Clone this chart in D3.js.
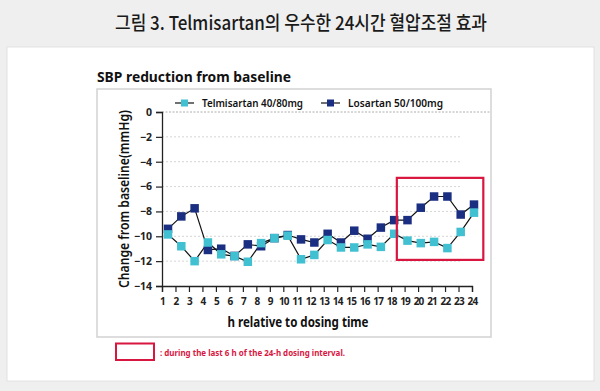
<!DOCTYPE html>
<html><head><meta charset="utf-8">
<script src="https://cdn.jsdelivr.net/npm/d3@7"></script>
<style>
html,body{margin:0;padding:0;background:#efefef;}
svg{display:block;}
</style></head>
<body>
<svg id="c" width="600" height="391"></svg>
<script>
// ---- data ----
const hours = [1,2,3,4,5,6,7,8,9,10,11,12,13,14,15,16,17,18,19,20,21,22,23,24];
const telmisartan = [-9.85,-10.8,-12.0,-10.5,-11.45,-11.6,-12.05,-10.55,-10.15,-9.95,-11.85,-11.5,-10.3,-10.9,-10.9,-10.65,-10.85,-9.8,-10.35,-10.55,-10.45,-10.95,-9.65,-8.1];
const losartan = [-9.4,-8.4,-7.75,-11.1,-11.0,-11.58,-10.65,-10.8,-10.15,-9.9,-10.25,-10.5,-9.8,-10.5,-9.55,-10.2,-9.3,-8.7,-8.7,-7.7,-6.8,-6.8,-8.25,-7.45];
const yTicks = [0,-2,-4,-6,-8,-10,-12,-14];
const seriesNames = ["Telmisartan 40/80mg","Losartan 50/100mg"];
const highlight = {h0:18.2, h1:24.7, v0:-5.3, v1:-11.9};
const titleText = "그림 3. Telmisartan의 우수한 24시간 혈압조절 효과";
const chartTitle = "SBP reduction from baseline";
const xTitle = "h relative to dosing time";
const yTitle = "Change from baseline(mmHg)";
const noteText = ": during the last 6 h of the 24-h dosing interval.";

const C_LIGHT = "#41c0d2", C_DARK = "#1b2f82", C_RED = "#d8163f";
const FONT = "'Noto Sans', 'Open Sans', sans-serif";

const svg = d3.select("#c");
// background panels
svg.append("rect").attr("x",0).attr("y",0).attr("width",600).attr("height",391).attr("fill","#efefef");
svg.append("rect").attr("x",7).attr("y",47).attr("width",587).attr("height",334).attr("fill","#fff").attr("stroke","#e2e2e2").attr("stroke-width",1);

// page title
svg.append("text").attr("x",301).attr("y",30).attr("text-anchor","middle")
  .attr("font-family","'Noto Sans CJK KR', sans-serif").attr("font-size",19).attr("font-weight",500).attr("fill","#1a1a1a")
  .attr("textLength",372).attr("lengthAdjust","spacingAndGlyphs").text(titleText);

// chart frame
svg.append("rect").attr("x",97).attr("y",89).attr("width",394).attr("height",248)
  .attr("fill","#fff").attr("stroke","#d2d2d2").attr("stroke-width",1.5);

svg.append("text").attr("x",97).attr("y",82).attr("font-family",FONT).attr("font-weight",700)
  .attr("font-size",15).attr("fill","#111").attr("textLength",194).attr("lengthAdjust","spacingAndGlyphs").text(chartTitle);

// scales
const y = d3.scaleLinear().domain([0,-14]).range([112,286]);
const xTick = d3.scaleLinear().domain([1,24]).range([162,472]);
const xp = d3.scaleLinear().domain([1,24]).range([168,474]);

// gridlines
svg.append("g").selectAll("line").data(yTicks.filter(d=>d<0 && d>-14)).join("line")
  .attr("x1",162).attr("x2",462).attr("y1",d=>y(d)).attr("y2",d=>y(d))
  .attr("stroke","#c9c9c9").attr("stroke-width",0.8).attr("stroke-dasharray","2,2");
svg.append("line").attr("x1",162).attr("x2",491).attr("y1",y(0)).attr("y2",y(0))
  .attr("stroke","#999").attr("stroke-width",0.8).attr("stroke-dasharray","2,1.5");

// y axis
const yAxis = svg.append("g").attr("transform","translate(162,0)")
  .call(d3.axisLeft(y).tickValues(yTicks).tickSize(6).tickPadding(4).tickFormat(d3.format("d")));
yAxis.select(".domain").attr("stroke","#222").attr("stroke-width",1.3);
yAxis.selectAll(".tick line").attr("stroke","#222").attr("stroke-width",1.2);
yAxis.selectAll("text").attr("font-family",FONT).attr("font-weight",700).attr("font-size",10.5).attr("fill","#222");

// x axis
const xAxis = svg.append("g").attr("transform","translate(0,286)")
  .call(d3.axisBottom(xTick).tickValues(hours).tickSize(6).tickPadding(6).tickFormat(d3.format("d")));
xAxis.select(".domain").attr("stroke","#222").attr("stroke-width",1.3);
xAxis.selectAll(".tick line").attr("stroke","#222").attr("stroke-width",1.2);
xAxis.selectAll("text").attr("font-family",FONT).attr("font-weight",700).attr("font-size",10)
  .attr("letter-spacing","-0.8").attr("fill","#222");

// axis titles
svg.append("text").attr("x",298).attr("y",327).attr("text-anchor","middle")
  .attr("font-family",FONT).attr("font-weight",700).attr("font-size",15).attr("fill","#111")
  .attr("textLength",141).attr("lengthAdjust","spacingAndGlyphs").text(xTitle);
svg.append("text").attr("transform","translate(129,199) rotate(-90)").attr("text-anchor","middle")
  .attr("font-family",FONT).attr("font-weight",600).attr("font-size",13.5).attr("fill","#111")
  .attr("textLength",178).attr("lengthAdjust","spacingAndGlyphs").text(yTitle);

// lines
const line = d3.line().x((d,i)=>xp(hours[i])).y(d=>y(d));
[losartan, telmisartan].forEach(s=>{
  svg.append("path").datum(s).attr("d",line).attr("fill","none").attr("stroke","#111").attr("stroke-width",1.2);
});
// markers
const ms = 8.5;
[[losartan,C_DARK],[telmisartan,C_LIGHT]].forEach(([s,c])=>{
  svg.append("g").selectAll("rect").data(s).join("rect")
    .attr("x",(d,i)=>xp(hours[i])-ms/2).attr("y",d=>y(d)-ms/2)
    .attr("width",ms).attr("height",ms).attr("fill",c);
});

// highlight box
svg.append("rect").attr("x",xp(highlight.h0)).attr("y",y(highlight.v0))
  .attr("width",xp(highlight.h1)-xp(highlight.h0)).attr("height",y(highlight.v1)-y(highlight.v0))
  .attr("fill","none").attr("stroke",C_RED).attr("stroke-width",2.2);

// legend
const leg = [{name:seriesNames[0],c:C_LIGHT,x:175,w:101},{name:seriesNames[1],c:C_DARK,x:321,w:95}];
leg.forEach(l=>{
  svg.append("line").attr("x1",l.x).attr("x2",l.x+19).attr("y1",103).attr("y2",103).attr("stroke","#111").attr("stroke-width",1.2);
  svg.append("rect").attr("x",l.x+9.5-3.5).attr("y",99.5).attr("width",7).attr("height",7).attr("fill",l.c);
  svg.append("text").attr("x",l.x+27).attr("y",107).attr("font-family",FONT).attr("font-weight",600)
    .attr("font-size",11.5).attr("fill","#111").attr("textLength",l.w).attr("lengthAdjust","spacingAndGlyphs").text(l.name);
});

// note
svg.append("rect").attr("x",116).attr("y",343.5).attr("width",38).attr("height",16.5)
  .attr("fill","#fff").attr("stroke",C_RED).attr("stroke-width",2);
svg.append("text").attr("x",160).attr("y",356).attr("font-family",FONT).attr("font-weight",700)
  .attr("font-size",8.5).attr("fill",C_RED).attr("textLength",185).attr("lengthAdjust","spacingAndGlyphs").text(noteText);
</script>
</body></html>
